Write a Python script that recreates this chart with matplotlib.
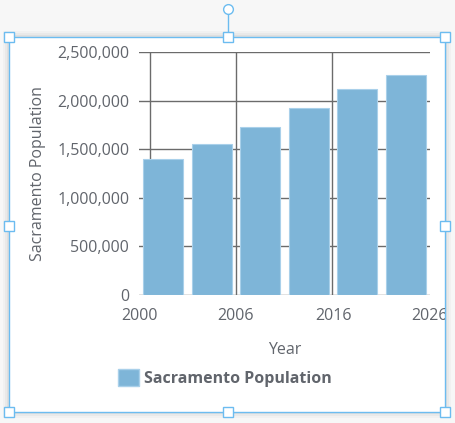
import matplotlib.pyplot as plt
from matplotlib.patches import Rectangle
from matplotlib.lines import Line2D
from matplotlib.ticker import FuncFormatter
from matplotlib.transforms import Bbox

# data
bar_slots = [0, 1, 2, 3, 4, 5]
population = [1400000, 1553000, 1731000, 1924000, 2119000, 2263000]
year_tick_pos = [-0.5, 1.5, 3.5, 5.5]
year_tick_labels = ['2000', '2006', '2016', '2026']
y_ticks = [0, 500000, 1000000, 1500000, 2000000, 2500000]

W, H = 455, 423
TXT = '#61656c'
BAR = '#7eb5d8'
GRID = '#6b6b6b'
SEL = '#6cbcf0'

plt.rcParams['font.family'] = ['Open Sans', 'DejaVu Sans']

fig = plt.figure(figsize=(W / 100, H / 100), dpi=100)
fig.patch.set_facecolor('#f7f7f7')


def px(x, y):
    # pixel position (from top left) -> figure fraction
    return x / W, 1 - y / H


# editor frame: soft shadow, white card, selection border
for i, a in enumerate([0.025, 0.03, 0.04]):
    d = 6 - 2 * i
    x0, y1 = px(9 - d, 412 + d)
    fig.patches.append(Rectangle((x0, y1), (436 + 2 * d) / W, (375 + 2 * d) / H,
                                 transform=fig.transFigure, facecolor='black',
                                 edgecolor='none', alpha=a, zorder=0))
x0, y1 = px(9, 412)
card = Rectangle((x0, y1), 436 / W, 375 / H, transform=fig.transFigure,
                 facecolor='white', edgecolor=SEL, linewidth=1, zorder=1)
fig.patches.append(card)

# rotation handle
fig.lines.append(Line2D([228 / W, 228 / W], [1 - 13 / H, 1 - 34 / H],
                        transform=fig.transFigure, color=SEL, linewidth=1, zorder=2))
cx, cy = px(228, 9)
fig.lines.append(Line2D([cx], [cy], transform=fig.transFigure, marker='o', markersize=7,
                        markerfacecolor='white', markeredgecolor=SEL, markeredgewidth=1,
                        linestyle='none', zorder=3))

# resize handles
for hx, hy in [(9, 37), (228, 37), (445, 37), (9, 226), (445, 226),
               (9, 412), (228, 412), (445, 412)]:
    fx, fy = px(hx, hy)
    fig.lines.append(Line2D([fx], [fy], transform=fig.transFigure, marker='s', markersize=6.5,
                            markerfacecolor='white', markeredgecolor=SEL, markeredgewidth=1,
                            linestyle='none', zorder=3))

# plot area
left, top, right, bottom = 139, 52, 430, 295
ax = fig.add_axes([left / W, 1 - bottom / H, (right - left) / W, (bottom - top) / H])
ax.set_facecolor('none')
ax.set_zorder(2)

ax.bar(bar_slots, population, width=0.82, color=BAR, edgecolor='#a9d0ea',
       linewidth=0.8, zorder=3)

ax.set_xlim(-0.5, 5.5)
ax.set_ylim(0, 2500000)
ax.set_yticks(y_ticks)
ax.yaxis.set_major_formatter(FuncFormatter(lambda v, p: f'{int(v):,}'))
ax.set_xticks(year_tick_pos)
ax.set_xticklabels(year_tick_labels)

for v in y_ticks:
    ax.axhline(v, color=GRID, linewidth=1, zorder=1)
for xv in [-0.27, 1.49, 3.47]:
    ax.axvline(xv, color=GRID, linewidth=1, zorder=1)

for s in ax.spines.values():
    s.set_visible(False)
ax.tick_params(axis='both', length=0, labelsize=11.5, colors=TXT)
ax.tick_params(axis='y', pad=7)
ax.tick_params(axis='x', pad=9)

ax.set_xlabel('Year', fontsize=11.5, color=TXT, labelpad=13)
ax.set_ylabel('Sacramento Population', fontsize=11.5, color=TXT, labelpad=8)

fig.legend(handles=[Rectangle((0, 0), 1, 1, facecolor=BAR, edgecolor='#a9d0ea')],
           labels=['Sacramento Population'], loc='center left',
           bbox_to_anchor=px(118, 378), frameon=False, borderpad=0, borderaxespad=0,
           handlelength=1.3, handleheight=1.3, handletextpad=0.3,
           prop={'size': 11.5, 'weight': 'bold'}, labelcolor=TXT)

# the last year label is cut off by the card edge in the reference
fig.canvas.draw()
last = ax.xaxis.get_major_ticks()[-1].label1
last.set_clip_box(Bbox([[9, H - 412], [445, H - 37]]))
last.set_clip_on(True)

fig.savefig('out.png', dpi=100, facecolor=fig.get_facecolor())
